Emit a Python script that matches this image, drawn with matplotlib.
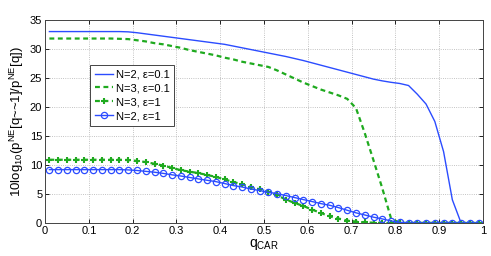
import numpy as np
import matplotlib
matplotlib.use('Agg')
import matplotlib.pyplot as plt

plt.rcParams['font.family'] = ['Liberation Sans', 'DejaVu Sans']
plt.rcParams['mathtext.fontset'] = 'custom'
plt.rcParams['mathtext.rm'] = 'Liberation Sans'

# sample points q = 0.01, 0.03, ..., 0.99
q = np.round(np.arange(0.01, 1.0, 0.02), 2)

# N=2, eps=0.1
n2_e01 = [33.0, 33.0, 33.0, 33.0, 33.0, 33.0, 33.0, 33.0, 33.0, 32.95,
          32.8, 32.6, 32.4, 32.2, 32.0, 31.8, 31.6, 31.4, 31.2, 31.0,
          30.8, 30.5, 30.2, 29.9, 29.6, 29.3, 29.0, 28.7, 28.35, 28.0,
          27.6, 27.2, 26.8, 26.4, 26.0, 25.6, 25.2, 24.8, 24.5, 24.25,
          24.05, 23.7, 22.2, 20.5, 17.5, 12.3, 4.0, 0.0, 0.0, 0.0]

# N=3, eps=0.1
n3_e01 = [31.8, 31.8, 31.8, 31.8, 31.8, 31.8, 31.8, 31.8, 31.75, 31.7,
          31.5, 31.3, 31.0, 30.8, 30.5, 30.2, 29.8, 29.5, 29.2, 28.9,
          28.5, 28.2, 27.8, 27.5, 27.2, 26.9, 26.3, 25.6, 24.9, 24.2,
          23.6, 23.0, 22.5, 22.0, 21.4, 19.8, 15.5, 10.8, 6.0, 0.8,
          0.0, 0.0, 0.0, 0.0, 0.0, 0.0, 0.0, 0.0, 0.0, 0.0]

# N=3, eps=1
n3_e1 = [10.9, 10.9, 10.9, 10.9, 10.9, 10.9, 10.9, 10.9, 10.9, 10.85,
         10.7, 10.5, 10.2, 9.9, 9.5, 9.1, 8.85, 8.6, 8.28, 7.95,
         7.5, 7.07, 6.67, 6.2, 5.8, 5.35, 4.78, 4.03, 3.45, 2.93,
         2.3, 1.72, 1.15, 0.76, 0.41, 0.24, 0.1, 0.05, 0.0, 0.0,
         0.0, 0.0, 0.0, 0.0, 0.0, 0.0, 0.0, 0.0, 0.0, 0.0]

# N=2, eps=1
n2_e1 = [9.2, 9.2, 9.2, 9.2, 9.2, 9.2, 9.2, 9.2, 9.2, 9.15,
         9.05, 8.9, 8.75, 8.55, 8.3, 8.1, 7.85, 7.6, 7.36, 7.13,
         6.8, 6.45, 6.2, 5.86, 5.58, 5.29, 5.06, 4.72, 4.38, 4.03,
         3.69, 3.34, 3.05, 2.65, 2.19, 1.75, 1.38, 1.0, 0.7, 0.35,
         0.1, 0.0, 0.0, 0.0, 0.0, 0.0, 0.0, 0.0, 0.0, 0.0]

blue = '#2b4cff'
green = '#1faa1f'

fig = plt.figure(figsize=(4.91, 2.56), dpi=100)
ax = fig.add_axes([0.0917, 0.129, 0.892, 0.793])

ax.plot(q, n2_e01, '-', color=blue, lw=1.0, label='N=2, \u03b5=0.1')
ax.plot(q, n3_e01, '--', color=green, lw=1.6, dashes=(2.2, 1.6), label='N=3, \u03b5=0.1')
ax.plot(q, n3_e1, '--', color=green, lw=1.6, dashes=(2.2, 1.6), marker='+',
        ms=4.5, mew=1.5, label='N=3, \u03b5=1')
ax.plot(q, n2_e1, '-', color=blue, lw=1.0, marker='o', ms=4.5, mfc='none',
        mew=0.9, label='N=2, \u03b5=1')

ax.set_xlim(0, 1)
ax.set_ylim(0, 35)
ax.set_xticks(np.arange(0, 1.01, 0.1))
ax.set_xticklabels(['0', '0.1', '0.2', '0.3', '0.4', '0.5', '0.6', '0.7', '0.8', '0.9', '1'])
ax.set_yticks(np.arange(0, 36, 5))
ax.tick_params(direction='in', top=True, right=True, labelsize=8, length=3, width=0.6, pad=2)
ax.grid(True, linestyle=':', color='#b0b0b0', lw=0.6)
for s in ax.spines.values():
    s.set_linewidth(0.7)
    s.set_color('#444444')

ax.set_xlabel('q$_{\\mathrm{CAR}}$', fontsize=10, labelpad=1)
ax.set_ylabel('10log$_{10}$(p$^{\\mathrm{NE}}$[q~~1]/p$^{\\mathrm{NE}}$[q])', fontsize=9.5, labelpad=3)

leg = ax.legend(loc='upper left', bbox_to_anchor=(0.103, 0.778), fontsize=8,
                fancybox=False, edgecolor='#444444', framealpha=1,
                handlelength=1.7, handletextpad=0.2, borderpad=0.4,
                labelspacing=0.35, borderaxespad=0)
leg.get_frame().set_linewidth(0.7)

fig.savefig('out.png', dpi=100)
